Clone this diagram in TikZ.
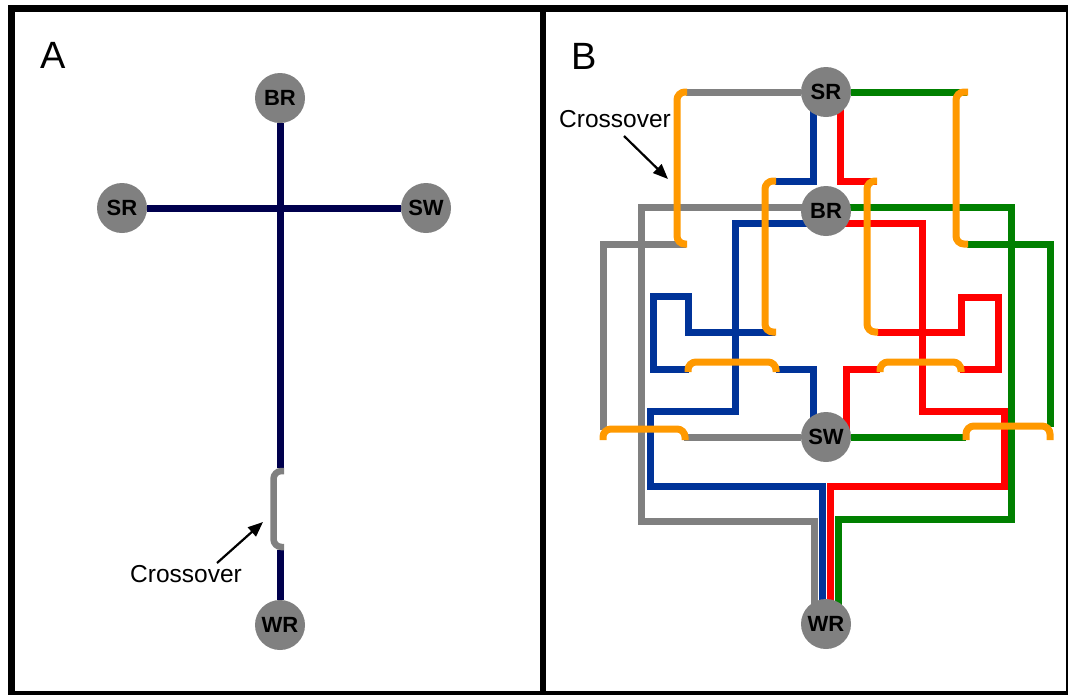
\documentclass[tikz,border=0pt]{standalone}
\usepackage{fontspec}
\setmainfont{Liberation Sans}
\usetikzlibrary{calc,arrows.meta}
\pgfdeclarelayer{background}
\pgfdeclarelayer{mid}
\pgfsetlayers{background,mid,main}
\definecolor{navyA}{RGB}{0,0,77}
\definecolor{blueB}{RGB}{0,51,153}
\definecolor{redB}{RGB}{255,0,0}
\definecolor{greenB}{RGB}{0,128,0}
\definecolor{orangeB}{RGB}{255,153,0}
\definecolor{grayN}{RGB}{128,128,128}
\begin{document}
\begin{tikzpicture}[x=1pt,y=-1pt,
  station/.style={circle,fill=grayN,minimum size=50pt,inner sep=0pt,font=\fontsize{22}{22}\selectfont\bfseries},
  route/.style={line width=7pt},
  hop/.style={line width=7pt,draw=orangeB,rounded corners=8pt},
  lbl/.style={font=\fontsize{24.5}{26}\selectfont,inner sep=0pt},
  panel/.style={font=\fontsize{38}{38}\selectfont,inner sep=0pt},
  pointer/.style={line width=2.2pt,-{Triangle[length=15pt,width=12pt]}}
]
\useasboundingbox (0,0) rectangle (1068,694);
% frame
\draw[line width=7pt] (11.5,8.5) rectangle (1069.5,694.5);
\draw[line width=6.5pt] (543,8.5) -- (543,694.5);

% panel labels
\node[panel] (labA) at (53,55) {A};
\node[panel] (labB) at (584,56) {B};

% ---------- panel A ----------
\node[station] (BRa) at (280,98) {BR};
\node[station] (SRa) at (122,208) {SR};
\node[station] (SWa) at (426,208) {SW};
\node[station] (WRa) at (280,625) {WR};
\node[lbl] (crA) at (186,574) {Crossover};
\coordinate (tailA) at (217,563);
\coordinate (tipA) at (263,522);
\draw[pointer] (tailA) -- (tipA);

% ---------- panel B ----------
\node[station] (SRb) at (826,92) {SR};
\node[station] (BRb) at (826,211) {BR};
\node[station] (SWb) at (826,437) {SW};
\node[station] (WRb) at (826,624) {WR};
\node[lbl] (crB) at (615,119) {Crossover};
\coordinate (tailB) at (624,136);
\coordinate (tipB) at (668,179);
\draw[pointer] (tailB) -- (tipB);

\begin{pgfonlayer}{background}
% panel A routes
\draw[route,navyA] (SRa) -- (SWa);
\draw[route,navyA] (BRa) -- (280,468);
\draw[route,navyA] (280,550) -- (WRa);
% panel B gray
\draw[route,grayN] (SRb) -- (686,92);
\draw[route,grayN] (686,244) -- (603,244) -- (603,430);
\draw[route,grayN] (684,437) -- (SWb);
\draw[route,grayN] ($(BRb)+(0,-4)$) -- (641,207) -- (641,521) -- (814,521) -- ($(WRb)+(-12,0)$);
% blue
\draw[route,blueB] ($(SRb)+(-13,0)$) -- (813,181) -- (775,181);
\draw[route,blueB] (775,332) -- (688,332) -- (688,296) -- (653,296) -- (653,369) -- (689,369);
\draw[route,blueB] (776,369) -- (813,369) -- ($(SWb)+(-13,0)$);
\draw[route,blueB] ($(BRb)+(0,12)$) -- (735,223) -- (735,411) -- (650,411) -- (650,486) -- (822,486) -- ($(WRb)+(-4,0)$);
% red
\draw[route,redB] ($(SRb)+(14,0)$) -- (840,181) -- (877,181);
\draw[route,redB] (877,332) -- (961,332) -- (961,297) -- (998,297) -- (998,369) -- (960,369);
\draw[route,redB] (880,369) -- (846,369) -- ($(SWb)+(20,0)$);
\draw[route,redB] ($(BRb)+(0,12)$) -- (922,223) -- (922,411) -- (1004,411) -- (1004,486) -- (830,486) -- ($(WRb)+(4,0)$);
% green
\draw[route,greenB] (SRb) -- (967,92);
\draw[route,greenB] (967,244) -- (1050,244) -- (1050,427);
\draw[route,greenB] (966,437) -- (SWb);
\draw[route,greenB] ($(BRb)+(0,-4)$) -- (1011,207) -- (1011,519) -- (838,519) -- ($(WRb)+(12,0)$);
\end{pgfonlayer}

\begin{pgfonlayer}{mid}
\draw[hop,draw=grayN,line width=6.5pt] (284,471) -- (273.5,471) -- (273.5,547) -- (284,547);
\draw[hop] (687,92) -- (677,92) -- (677,244) -- (687,244);
\draw[hop] (776,181) -- (765,181) -- (765,332) -- (776,332);
\draw[hop] (877,181) -- (867,181) -- (867,332) -- (878,332);
\draw[hop] (968,92) -- (956,92) -- (956,244) -- (968,244);
\draw[hop] (688,372) -- (688,362) -- (776,362) -- (776,372);
\draw[hop] (880,372) -- (880,362) -- (961,362) -- (961,372);
\draw[hop] (603,440) -- (603,429) -- (685,429) -- (685,440);
\draw[hop] (966,440) -- (966,426) -- (1050,426) -- (1050,440);
\end{pgfonlayer}
\end{tikzpicture}
\end{document}
